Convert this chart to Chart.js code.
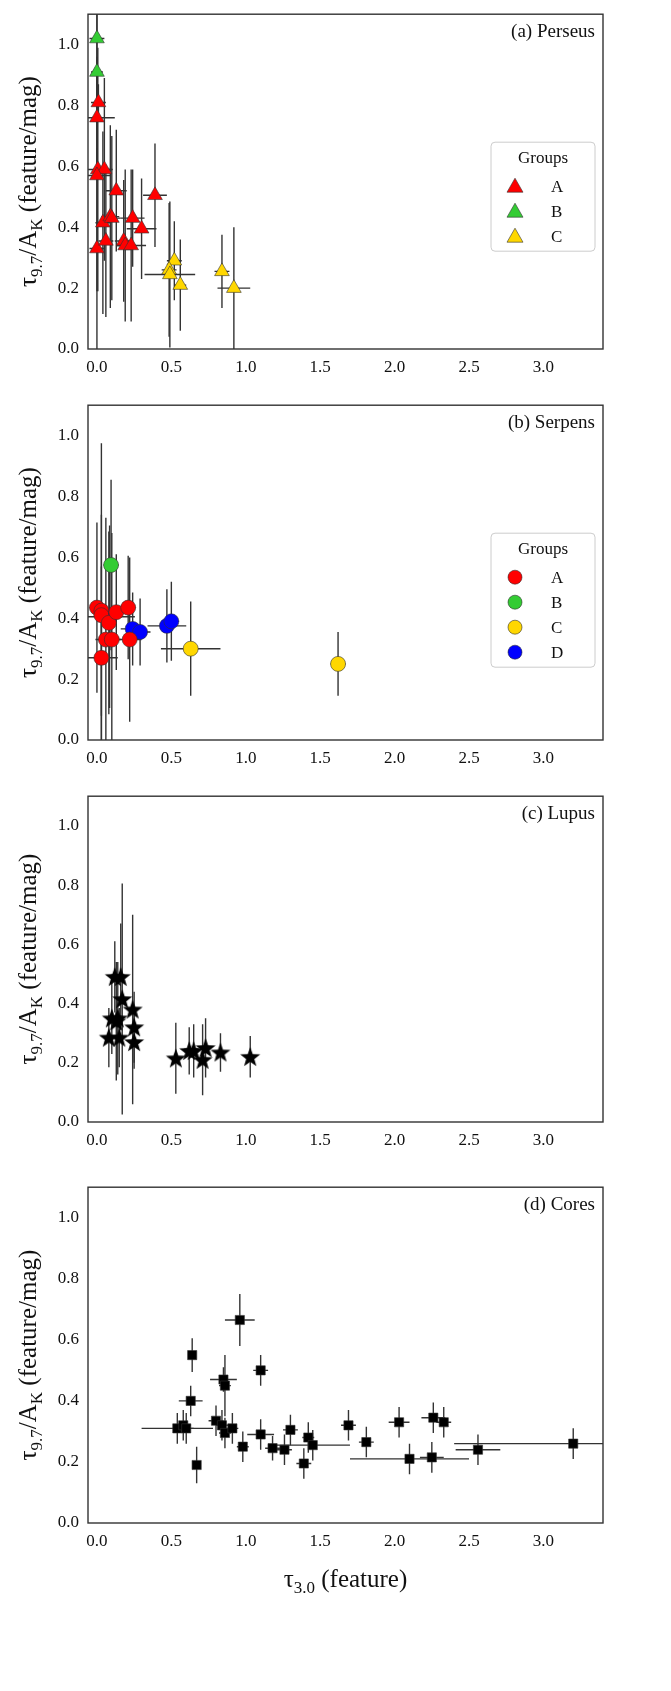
<!DOCTYPE html>
<html><head><meta charset="utf-8">
<script src="https://cdn.jsdelivr.net/npm/chart.js@4.4.0/dist/chart.umd.min.js"></script>
<style>
body{margin:0;background:#fff;width:671px}
.p{position:relative;width:671px}
canvas{display:block}
</style></head><body>
<div class="p" style="height:391px"><canvas id="ca"></canvas></div>
<div class="p" style="height:391px"><canvas id="cb"></canvas></div>
<div class="p" style="height:391px"><canvas id="cc"></canvas></div>
<div class="p" style="height:518px"><canvas id="cd"></canvas></div>
<script>
// points: [x, y, xerr, yerr]
const perseusA = [[0.01,0.81,0.05,0.06],[0.0,0.76,0.12,0.2],[0.006,0.59,0.10,0.4],[0.05,0.59,0.05,0.3],[0.0,0.57,0.09,0.38],
 [0.13,0.52,0.07,0.2],[0.39,0.505,0.08,0.17],[0.04,0.415,0.05,0.3],[0.09,0.435,0.06,0.3],[0.10,0.43,0.06,0.27],
 [0.24,0.43,0.08,0.16],[0.30,0.395,0.10,0.165],[0.0,0.33,0.05,0.33],[0.06,0.355,0.05,0.25],[0.18,0.355,0.06,0.2],
 [0.19,0.34,0.06,0.25],[0.23,0.34,0.10,0.25]];
const perseusB = [[0.0,1.02,0.05,0.3],[0.0,0.91,0.04,0.3]];
const perseusC = [[0.52,0.29,0.05,0.13],[0.485,0.26,0.05,0.22],[0.49,0.245,0.17,0.24],[0.56,0.21,0.04,0.15],[0.84,0.255,0.05,0.12],[0.92,0.20,0.11,0.2]];
const serpensA = [[0.0,0.435,0.05,0.28],[0.03,0.425,0.04,0.55],[0.03,0.41,0.04,0.33],[0.03,0.27,0.11,0.3],[0.08,0.385,0.05,0.3],
 [0.06,0.33,0.07,0.4],[0.10,0.33,0.06,0.35],[0.13,0.42,0.06,0.19],[0.21,0.435,0.05,0.17],[0.22,0.33,0.08,0.27]];
const serpensB = [[0.095,0.575,0.05,0.28]];
const serpensC = [[0.63,0.30,0.20,0.155],[1.62,0.25,0.05,0.105]];
const serpensD = [[0.085,0.405,0.17,0.3],[0.24,0.365,0.08,0.12],[0.29,0.355,0.07,0.11],[0.47,0.375,0.13,0.12],[0.50,0.39,0.05,0.13]];
const lupus = [[0.08,0.285,0.03,0.1],[0.10,0.35,0.03,0.12],[0.12,0.49,0.03,0.12],[0.13,0.34,0.03,0.2],[0.15,0.285,0.03,0.1],
 [0.16,0.49,0.03,0.18],[0.17,0.415,0.03,0.39],[0.14,0.35,0.03,0.19],[0.24,0.38,0.03,0.32],[0.25,0.32,0.03,0.12],
 [0.25,0.27,0.03,0.09],[0.53,0.215,0.03,0.12],[0.62,0.24,0.03,0.08],[0.65,0.24,0.03,0.09],[0.71,0.21,0.03,0.12],
 [0.73,0.25,0.03,0.1],[0.83,0.235,0.03,0.065],[1.03,0.22,0.03,0.07]];
const cores = [[0.54,0.31,0.24,0.05],[0.58,0.32,0.05,0.05],[0.60,0.31,0.05,0.05],[0.63,0.40,0.08,0.05],[0.64,0.55,0.02,0.055],
 [0.67,0.19,0.02,0.06],[0.80,0.335,0.05,0.05],[0.84,0.32,0.04,0.05],[0.85,0.47,0.09,0.04],[0.86,0.45,0.04,0.1],
 [0.86,0.295,0.04,0.05],[0.91,0.31,0.04,0.05],[0.96,0.665,0.1,0.085],[0.98,0.25,0.04,0.05],[1.10,0.29,0.09,0.05],
 [1.10,0.50,0.05,0.05],[1.18,0.245,0.05,0.04],[1.26,0.24,0.05,0.05],[1.30,0.305,0.05,0.05],[1.39,0.195,0.05,0.05],
 [1.42,0.28,0.04,0.05],[1.45,0.255,0.25,0.05],[1.69,0.32,0.05,0.05],[1.81,0.265,0.05,0.05],[2.03,0.33,0.07,0.05],
 [2.10,0.21,0.4,0.05],[2.25,0.215,0.08,0.05],[2.26,0.345,0.08,0.05],[2.33,0.33,0.05,0.05],[2.56,0.24,0.15,0.05],[3.20,0.26,0.8,0.05]];
const xTicks = [0,0.5,1,1.5,2,2.5,3];
const yTicks = [0,0.2,0.4,0.6,0.8,1.0];

const RED='#ff0000', GREEN='#33cc33', YEL='#ffd700', BLUE='#0000ff';
const FONT='"Liberation Serif","DejaVu Serif",serif';

function starImg(){
  const c=document.createElement('canvas'); c.width=22;c.height=22;
  const g=c.getContext('2d'); g.beginPath();
  for(let i=0;i<10;i++){const r=i%2?4.3:10.5;const a=-Math.PI/2+i*Math.PI/5;g.lineTo(11+r*Math.cos(a),11.8+r*Math.sin(a));}
  g.closePath(); g.fillStyle='#000'; g.fill(); return c;
}
const STAR=starImg();

function ds(pts,color,style,radius){
  return {data:pts.map(p=>({x:p[0],y:p[1],xe:p[2],ye:p[3]})),backgroundColor:color,borderColor:'#333',
    borderWidth:0.6,pointStyle:style,pointRadius:radius,pointHoverRadius:radius};
}

const errPlugin={id:'err',beforeDatasetsDraw(ch){
  const g=ch.ctx,xs=ch.scales.x,ys=ch.scales.y,a=ch.chartArea;
  g.save();g.beginPath();g.rect(a.left,a.top,a.right-a.left,a.bottom-a.top);g.clip();
  g.strokeStyle='#333';g.lineWidth=1.4;
  ch.data.datasets.forEach(d=>d.data.forEach(p=>{
    const px=xs.getPixelForValue(p.x),py=ys.getPixelForValue(p.y);
    g.beginPath();
    g.moveTo(xs.getPixelForValue(p.x-p.xe),py);g.lineTo(xs.getPixelForValue(p.x+p.xe),py);
    g.moveTo(px,ys.getPixelForValue(p.y-p.ye));g.lineTo(px,ys.getPixelForValue(p.y+p.ye));
    g.stroke();
  }));
  g.restore();
}};

const decoPlugin={id:'deco',afterDraw(ch,args,o){
  const g=ch.ctx,a=ch.chartArea;
  g.save();
  g.strokeStyle='#333';g.lineWidth=1.4;g.strokeRect(a.left,a.top,a.right-a.left,a.bottom-a.top);
  g.fillStyle='#111';g.font='19px '+FONT;g.textAlign='right';g.textBaseline='alphabetic';
  g.fillText(o.label,a.right-8,a.top+23);
  g.save();g.translate(28,(a.top+a.bottom)/2);g.rotate(-Math.PI/2);
  const parts=[['τ',25,0],['9.7',17,6],['/A',25,0],['K',17,6],[' (feature/mag)',25,0]];
  let w=0;parts.forEach(p=>{g.font=p[1]+'px '+FONT;w+=g.measureText(p[0]).width;});
  let x=-w/2;g.textAlign='left';
  parts.forEach(p=>{g.font=p[1]+'px '+FONT;g.fillText(p[0],x,p[2]+8);x+=g.measureText(p[0]).width;});
  g.restore();
  if(o.xtitle){
    const xp=[['τ',25,0],['3.0',17,6],[' (feature)',25,0]];
    let w2=0;xp.forEach(p=>{g.font=p[1]+'px '+FONT;w2+=g.measureText(p[0]).width;});
    let x2=(a.left+a.right)/2-w2/2;g.textAlign='left';
    xp.forEach(p=>{g.font=p[1]+'px '+FONT;g.fillText(p[0],x2,a.bottom+64+p[2]);x2+=g.measureText(p[0]).width;});
  }
  if(o.legend){
    const L=o.legend,lx=a.right-112,ly=a.top+128,h=34+L.length*25;
    g.fillStyle='#fff';g.strokeStyle='#ccc';g.lineWidth=1;
    g.beginPath();g.roundRect(lx,ly,104,h,4);g.fill();g.stroke();
    g.fillStyle='#111';g.font='17px '+FONT;g.textAlign='center';g.fillText('Groups',lx+52,ly+21);
    L.forEach((it,i)=>{
      const cy=ly+44+i*25,cx=lx+24;
      g.fillStyle=it[1];g.strokeStyle='#333';g.lineWidth=0.6;g.beginPath();
      if(o.shape==='tri'){g.moveTo(cx,cy-8);g.lineTo(cx+8,cy+6);g.lineTo(cx-8,cy+6);g.closePath();}
      else g.arc(cx,cy,7,0,Math.PI*2);
      g.fill();g.stroke();
      g.fillStyle='#111';g.textAlign='left';g.font='17px '+FONT;g.fillText(it[0],lx+60,cy+6);
    });
  }
  g.restore();
}};

function panel(id,datasets,label,legend,shape,xtitle,bottom){
  new Chart(document.getElementById(id),{type:'scatter',data:{datasets},
    plugins:[errPlugin,decoPlugin],
    options:{responsive:true,maintainAspectRatio:false,animation:false,events:[],
      layout:{padding:{left:0,right:68,top:7,bottom:0}},
      plugins:{legend:{display:false},tooltip:{enabled:false},deco:{label,legend,shape,xtitle}},
      scales:{
        x:{type:'linear',min:-0.06,max:3.4,afterFit(s){s.height=bottom;},
          afterBuildTicks(s){s.ticks=xTicks.map(v=>({value:v}));},
          grid:{display:false,drawOnChartArea:false,drawTicks:true,tickLength:5,color:'#333'},border:{display:false},
          ticks:{color:'#111',font:{family:FONT,size:17},padding:3,callback:v=>v.toFixed(1),maxRotation:0}},
        y:{type:'linear',min:0,max:1.1,afterFit(s){s.width=88;},
          afterBuildTicks(s){s.ticks=yTicks.map(v=>({value:v}));},
          grid:{display:false,drawOnChartArea:false,drawTicks:true,tickLength:5,color:'#333'},border:{display:false},
          ticks:{color:'#111',font:{family:FONT,size:17},padding:4,callback:v=>v.toFixed(1)}}
      }}});
}

panel('ca',[ds(perseusA,RED,'triangle',8.5),ds(perseusB,GREEN,'triangle',8.5),ds(perseusC,YEL,'triangle',8.5)],
  '(a) Perseus',[['A',RED],['B',GREEN],['C',YEL]],'tri',false,42);
panel('cb',[ds(serpensA,RED,'circle',7.5),ds(serpensB,GREEN,'circle',7.5),ds(serpensC,YEL,'circle',7.5),ds(serpensD,BLUE,'circle',7.5)],
  '(b) Serpens',[['A',RED],['B',GREEN],['C',YEL],['D',BLUE]],'circ',false,42);
panel('cc',[ds(lupus,'#000',STAR,10)],'(c) Lupus',null,null,false,51);
panel('cd',[ds(cores,'#000','rect',6.5)],'(d) Cores',null,null,true,168);
</script>
</body></html>
